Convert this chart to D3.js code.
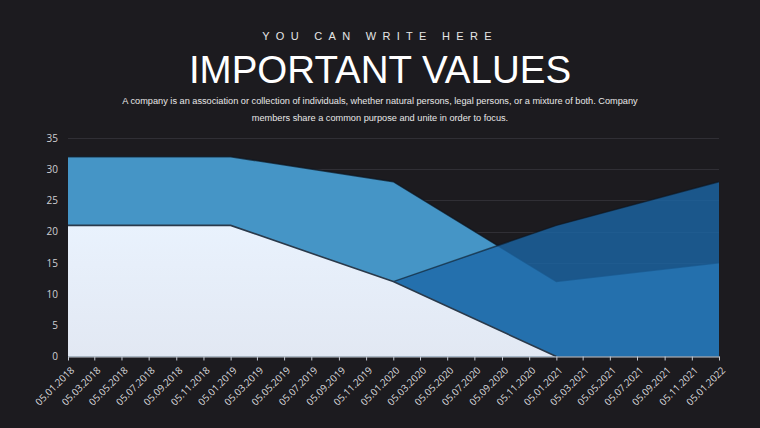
<!DOCTYPE html>
<html>
<head>
<meta charset="utf-8">
<script src="https://cdn.jsdelivr.net/npm/d3@7"></script>
<style>
    html, body { margin: 0; padding: 0; background: #1c1b1f; }
    svg { display: block; }
</style>
</head>
<body>
<svg id="chart" width="760" height="428"></svg>
<script>
// data
const pointDates = ['05.01.2018', '05.01.2019', '05.01.2020', '05.01.2021', '05.01.2022'];
const lightValues = [21, 21, 12, 0, null];
const midValues = [32, 32, 28, 12, 15];
const darkValues = [null, null, 12, 21, 28];

const tickLabels = [
    '05.01.2018', '05.03.2018', '05.05.2018', '05.07.2018', '05.09.2018', '05.11.2018',
    '05.01.2019', '05.03.2019', '05.05.2019', '05.07.2019', '05.09.2019', '05.11.2019',
    '05.01.2020', '05.03.2020', '05.05.2020', '05.07.2020', '05.09.2020', '05.11.2020',
    '05.01.2021', '05.03.2021', '05.05.2021', '05.07.2021', '05.09.2021', '05.11.2021',
    '05.01.2022'
];
const yTicks = [0, 5, 10, 15, 20, 25, 30, 35];

const parseDate = d3.timeParse('%d.%m.%Y');

const svg = d3.select('#chart');

// heading
svg.append('text')
    .attr('x', 380).attr('y', 40)
    .attr('text-anchor', 'middle')
    .attr('font-family', 'Liberation Sans, Arial, sans-serif')
    .attr('font-size', 11)
    .attr('letter-spacing', '6.3px')
    .attr('fill', '#e6e6e6')
    .text('YOU CAN WRITE HERE');

svg.append('text')
    .attr('x', 380).attr('y', 83)
    .attr('text-anchor', 'middle')
    .attr('font-family', 'Liberation Sans, Arial, sans-serif')
    .attr('font-size', 38.5)
    .attr('fill', '#ffffff')
    .text('IMPORTANT VALUES');

const subLines = [
    'A company is an association or collection of individuals, whether natural persons, legal persons, or a mixture of both. Company',
    'members share a common purpose and unite in order to focus.'
];
svg.selectAll('.sub')
    .data(subLines)
    .enter()
    .append('text')
    .attr('class', 'sub')
    .attr('x', 380)
    .attr('y', (d, i) => 103.5 + i * 17)
    .attr('text-anchor', 'middle')
    .attr('font-family', 'Liberation Sans, Arial, sans-serif')
    .attr('font-size', 9.2)
    .attr('fill', '#e8e8e8')
    .text(d => d);

// chart box
const plotLeft = 68, plotRight = 719, plotTop = 138, plotBottom = 356.5;

const x = d3.scaleTime()
    .domain([parseDate(tickLabels[0]), parseDate(tickLabels[tickLabels.length - 1])])
    .range([plotLeft, plotRight]);

const y = d3.scaleLinear()
    .domain([0, 35])
    .range([plotBottom, plotTop]);

const defs = svg.append('defs');
const grad = defs.append('linearGradient')
    .attr('id', 'lightGrad')
    .attr('x1', 0).attr('y1', 0).attr('x2', 0).attr('y2', 1);
grad.append('stop').attr('offset', '0%').attr('stop-color', '#e9f2fd');
grad.append('stop').attr('offset', '100%').attr('stop-color', '#e2e8f3');

// grid
svg.append('g')
    .selectAll('line')
    .data(yTicks.filter(v => v > 0))
    .enter()
    .append('line')
    .attr('x1', plotLeft)
    .attr('x2', plotRight)
    .attr('y1', d => Math.round(y(d)) + 0.5)
    .attr('y2', d => Math.round(y(d)) + 0.5)
    .attr('stroke', '#302f35')
    .attr('stroke-width', 1);

function series(values) {
    return pointDates.map((d, i) => ({ date: parseDate(d), value: values[i] }));
}

const area = d3.area()
    .defined(d => d.value !== null)
    .x(d => x(d.date))
    .y0(y(0))
    .y1(d => y(d.value));

const line = d3.line()
    .defined(d => d.value !== null)
    .x(d => x(d.date))
    .y(d => y(d.value));

const plot = svg.append('g');

plot.append('path')
    .datum(series(midValues))
    .attr('d', area)
    .attr('fill', '#4595c6');
plot.append('path')
    .datum(series(midValues))
    .attr('d', line)
    .attr('fill', 'none')
    .attr('stroke', '#0d1520')
    .attr('stroke-opacity', 0.7)
    .attr('stroke-width', 1.5);

plot.append('path')
    .datum(series(darkValues))
    .attr('d', area)
    .attr('fill', '#1c67a6')
    .attr('fill-opacity', 0.8);
plot.append('path')
    .datum(series(darkValues))
    .attr('d', line)
    .attr('fill', 'none')
    .attr('stroke', '#0d1520')
    .attr('stroke-opacity', 0.6)
    .attr('stroke-width', 1.5);

plot.append('path')
    .datum(series(lightValues))
    .attr('d', area)
    .attr('fill', 'url(#lightGrad)');
plot.append('path')
    .datum(series(lightValues))
    .attr('d', line)
    .attr('fill', 'none')
    .attr('stroke', '#2a3a4b')
    .attr('stroke-width', 1.6);

// x axis
const xAxis = svg.append('g')
    .attr('transform', `translate(0,${plotBottom})`)
    .call(d3.axisBottom(x)
        .tickValues(tickLabels.map(parseDate))
        .tickFormat(d3.timeFormat('%d.%m.%Y'))
        .tickSize(4)
        .tickSizeOuter(0));
xAxis.select('.domain').attr('stroke', '#c5c9d2').attr('stroke-width', 1.2);
xAxis.selectAll('.tick line').attr('stroke', '#c5c9d2');
xAxis.selectAll('.tick text')
    .attr('font-family', 'Open Sans, sans-serif')
    .attr('font-size', 9.8)
    .attr('fill', '#d8d8dc')
    .attr('text-anchor', 'end')
    .attr('x', 0)
    .attr('y', 0)
    .attr('dx', 0)
    .attr('dy', '0.35em')
    .attr('transform', 'translate(4,12) rotate(-45)');

// y axis labels
const yAxis = svg.append('g')
    .attr('transform', `translate(${plotLeft},0)`)
    .call(d3.axisLeft(y).tickValues(yTicks).tickSize(0).tickPadding(10));
yAxis.select('.domain').remove();
yAxis.selectAll('.tick text')
    .attr('font-family', 'Open Sans, sans-serif')
    .attr('font-size', 10)
    .attr('fill', '#cfcfd3');
</script>
</body>
</html>
